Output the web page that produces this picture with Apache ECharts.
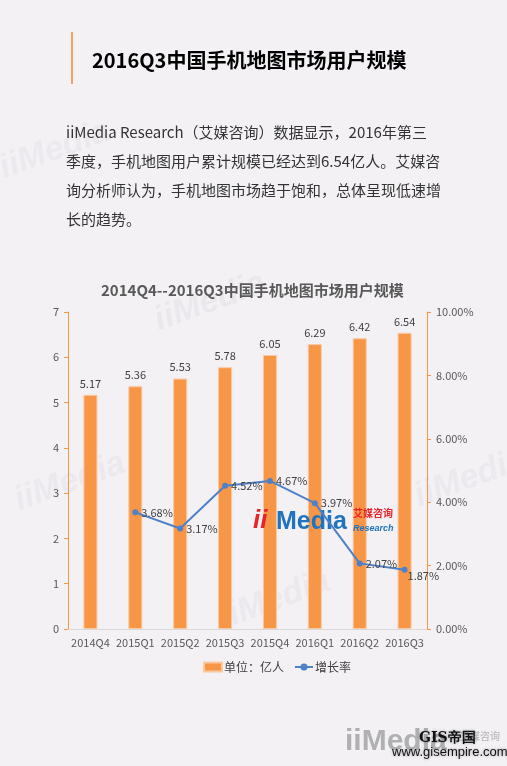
<!DOCTYPE html>
<html><head><meta charset="utf-8">
<script src="https://cdn.jsdelivr.net/npm/echarts@6/dist/echarts.min.js"></script>
<style>html,body{margin:0;padding:0;background:#f3f1f4;}#c{width:507px;height:766px;}</style>
</head><body><div id="c"></div>
<script>
const categories = ['2014Q4','2015Q1','2015Q2','2015Q3','2015Q4','2016Q1','2016Q2','2016Q3'];
const users = [5.17, 5.36, 5.53, 5.78, 6.05, 6.29, 6.42, 6.54];
const growth = [null, 3.68, 3.17, 4.52, 4.67, 3.97, 2.07, 1.87];
const seriesNames = ['单位：亿人', '增长率'];
const pageTitle = '2016Q3中国手机地图市场用户规模';
const chartTitle = '2014Q4--2016Q3中国手机地图市场用户规模';
const paragraph = ['iiMedia Research（艾媒咨询）数据显示，2016年第三','季度，手机地图用户累计规模已经达到6.54亿人。艾媒咨','询分析师认为，手机地图市场趋于饱和，总体呈现低速增','长的趋势。'];

const FONT = '"Noto Sans CJK SC", "Noto Sans", sans-serif';
const chart = echarts.init(document.getElementById('c'), null, {renderer:'canvas'});

function wm(x, y, size, color) {
  return {type:'text', x:x, y:y, rotation: 0.35, z:0, silent:true,
    style:{text:'iiMedia', fill:color, font:'italic bold ' + size + 'px Arial, sans-serif', align:'center', verticalAlign:'middle'}};
}

const growthData = growth.map((v, i) => i === growth.length - 1 ? {value: v, label: {offset: [-3, 6]}} : v);

chart.setOption({
  backgroundColor: '#f3f1f4',
  textStyle: {fontFamily: FONT},
  title: {
    text: chartTitle, left: 96, top: 278,
    textStyle: {fontSize: 15, fontWeight: 'bold', color: '#595959', fontFamily: FONT}
  },
  graphic: [
    wm(55, 150, 34, '#ebe9ed'),
    wm(210, 302, 34, '#eae8ec'),
    wm(70, 482, 34, '#ebe9ed'),
    wm(470, 478, 34, '#ebe9ed'),
    wm(275, 600, 34, '#ebe9ed'),
    {type:'rect', shape:{x:71, y:32, width:2, height:52}, style:{fill:'#f4a064'}, silent:true},
    {type:'text', x:92, y:60, style:{text: pageTitle, fill:'#000', font:'bold 20px ' + FONT, verticalAlign:'middle'}},
    {type:'text', x:66, y:118, style:{text: paragraph.join('\n'), fill:'#333', font:'15px ' + FONT, lineHeight:29}},
    {type:'text', x:253, y:521, z:3, style:{text:'ii', fill:'#e8242a', font:'italic bold 26px Arial, sans-serif', verticalAlign:'middle'}},
    {type:'text', x:276, y:522, z:3, style:{text:'Media', fill:'#1f74bd', font:'bold 25px Arial, sans-serif', verticalAlign:'middle'}},
    {type:'text', x:353, y:513, z:3, style:{text:'艾媒咨询', fill:'#e8242a', font:'bold 10px ' + FONT, verticalAlign:'middle'}},
    {type:'text', x:353, y:529, z:3, style:{text:'Research', fill:'#1f74bd', font:'italic bold 9px Arial, sans-serif', verticalAlign:'middle'}},
    {type:'text', x:345, y:742, z:1, style:{text:'iiMedia', fill:'#b0b0b2', font:'bold 30px Arial, sans-serif', verticalAlign:'middle'}},
    {type:'text', x:460, y:736, z:1, style:{text:'艾媒咨询', fill:'#c4c4c6', font:'bold 10px ' + FONT, verticalAlign:'middle'}},
    {type:'text', x:419, y:738, z:2, style:{text:'GIS帝国', fill:'#111', font:'bold 14px "DejaVu Serif", serif', verticalAlign:'middle', textShadowColor:'rgba(0,0,0,0.35)', textShadowBlur:3}},
    {type:'text', x:392, y:752, z:2, style:{text:'www.gisempire.com', fill:'#111', font:'13px Arial, sans-serif', verticalAlign:'middle', textShadowColor:'rgba(0,0,0,0.35)', textShadowBlur:3}}
  ],
  legend: {
    left: 198, top: 656, itemGap: 10,
    textStyle: {color: '#404040', fontSize: 12, fontFamily: FONT, padding: [0, 0, 0, -3]},
    data: [
      {name: seriesNames[0], icon: 'rect', itemStyle: {color: '#f79646'}},
      {name: seriesNames[1]}
    ],
    itemWidth: 18, itemHeight: 9
  },
  grid: {left: 68, right: 80, top: 312, bottom: 137},
  xAxis: {
    type: 'category', data: categories,
    axisLine: {lineStyle: {color: '#d9d9d9'}},
    axisTick: {show: false},
    axisLabel: {color: '#595959', fontSize: 11, margin: 8, interval: 0}
  },
  yAxis: [
    {type: 'value', min: 0, max: 7, interval: 1,
     axisLine: {show: true, lineStyle: {color: '#f79646'}},
     axisTick: {show: true, length: 4, lineStyle: {color: '#f79646'}},
     splitLine: {show: false},
     axisLabel: {color: '#595959', fontSize: 11, margin: 9}},
    {type: 'value', min: 0, max: 10, interval: 2, position: 'right',
     axisLine: {show: true, lineStyle: {color: '#f79646'}},
     axisTick: {show: true, length: 4, lineStyle: {color: '#f79646'}},
     splitLine: {show: false},
     axisLabel: {color: '#595959', fontSize: 11, margin: 9, formatter: v => v.toFixed(2) + '%'}}
  ],
  series: [
    {name: seriesNames[0], type: 'bar', data: users, barWidth: 14, z: 2,
     itemStyle: {color: '#f79646', borderColor: '#fbc8a0', borderWidth: 1},
     label: {show: true, position: 'top', distance: 6, color: '#404040', fontSize: 11}},
    {name: seriesNames[1], type: 'line', yAxisIndex: 1, data: growthData, z: 5,
     connectNulls: false,
     symbol: 'circle', symbolSize: 6,
     lineStyle: {color: '#4f81c8', width: 2},
     itemStyle: {color: '#4f81c8'},
     label: {show: true, position: 'right', distance: 3, color: '#404040', fontSize: 11, formatter: p => p.value + '%'}}
  ]
});
</script>
</body></html>
